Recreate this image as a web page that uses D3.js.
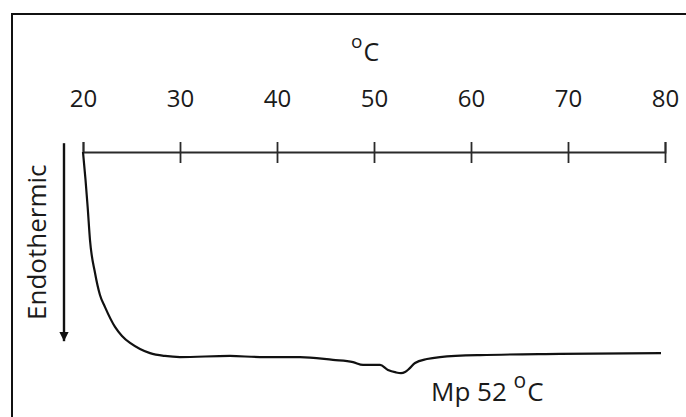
<!DOCTYPE html>
<html>
<head>
<meta charset="utf-8">
<script src="https://cdn.jsdelivr.net/npm/d3@7"></script>
<style>
  body { margin: 0; background: #fff; }
  svg { display: block; font-family: "Open Sans", sans-serif; }
</style>
</head>
<body>
<script>
const width = 686, height = 417;

// temperature ticks (°C)
const tickValues = [20, 30, 40, 50, 60, 70, 80];

// DSC trace: temperature and heat flow (arbitrary units)
const temps = [20.0, 20.26, 20.48, 20.72, 21.24, 21.75, 22.27, 23.3, 24.02, 24.85, 25.88, 26.91,
  28.45, 30.0, 35.15, 38.25, 42.37, 45.77, 47.84, 48.87, 50.62, 51.44, 52.27, 52.78, 53.2,
  53.61, 54.23, 55.46, 56.8, 60.93, 69.18, 79.59];
const heatFlow = [0, -1.27, -2.5, -4.0, -5.5, -6.5, -7.05, -7.95, -8.36, -8.68, -8.95, -9.14,
  -9.27, -9.32, -9.27, -9.32, -9.32, -9.45, -9.55, -9.68, -9.68, -9.91, -10.02, -10.05, -10.0,
  -9.86, -9.59, -9.41, -9.32, -9.23, -9.18, -9.14];

const data = temps.map((t, i) => ({t, v: heatFlow[i]}));

const x = d3.scaleLinear().domain([20, 80]).range([83, 665]);
const y = d3.scaleLinear().domain([0, -10]).range([152, 372]);

const svg = d3.select("body").append("svg")
    .attr("width", width)
    .attr("height", height);

// frame (only top and left edges show)
svg.append("path")
    .attr("d", `M12,${height} V14 H${width}`)
    .attr("fill", "none")
    .attr("stroke", "#111")
    .attr("stroke-width", 2);

// temperature axis
const axis = svg.append("g")
    .attr("transform", `translate(0,${y(0)})`)
    .call(d3.axisTop(x).tickValues(tickValues).tickSizeOuter(0).tickSize(10).tickFormat(d3.format("d")));

axis.select(".domain").attr("stroke", "#2a2a2a").attr("stroke-width", 1.8);
axis.selectAll(".tick line")
    .attr("stroke", "#2a2a2a")
    .attr("stroke-width", 1.8)
    .attr("y1", d => d === 20 ? 0 : 11)
    .attr("y2", -10);
axis.selectAll(".tick text")
    .attr("y", -45)
    .attr("dy", 0)
    .attr("fill", "#1a1a1a")
    .attr("font-family", "Open Sans")
    .attr("font-size", 24);

// unit label
const unit = svg.append("text")
    .attr("x", 351)
    .attr("y", 61)
    .attr("font-size", 25)
    .attr("fill", "#1a1a1a");
unit.append("tspan").attr("font-size", 19).attr("dy", -13).text("o");
unit.append("tspan").attr("dy", 13).attr("dx", 1).text("C");

// Endothermic direction arrow
svg.append("defs").append("marker")
    .attr("id", "head")
    .attr("viewBox", "0 0 10 10")
    .attr("refX", 10).attr("refY", 5)
    .attr("markerWidth", 4).attr("markerHeight", 4)
    .attr("markerUnits", "strokeWidth")
    .attr("orient", "auto")
  .append("path")
    .attr("d", "M0,0 L10,5 L0,10 Z")
    .attr("fill", "#111");

svg.append("line")
    .attr("x1", 64).attr("x2", 64)
    .attr("y1", y(0.4)).attr("y2", y(-8.6))
    .attr("stroke", "#111")
    .attr("stroke-width", 2.4)
    .attr("marker-end", "url(#head)");

svg.append("text")
    .attr("transform", `translate(46,${y(-4.1)}) rotate(-90)`)
    .attr("text-anchor", "middle")
    .attr("font-size", 26)
    .attr("fill", "#1a1a1a")
    .text("Endothermic");

// trace
const line = d3.line()
    .x(d => x(d.t))
    .y(d => y(d.v))
    .curve(d3.curveMonotoneX);

svg.append("path")
    .datum(data)
    .attr("d", line)
    .attr("fill", "none")
    .attr("stroke", "#111")
    .attr("stroke-width", 2.2)
    .attr("stroke-linejoin", "round");

// melting point label
const mp = svg.append("text")
    .attr("x", 431)
    .attr("y", 401)
    .attr("font-size", 26)
    .attr("fill", "#1a1a1a");
mp.append("tspan").text("Mp 52 ");
mp.append("tspan").attr("font-size", 21).attr("dy", -13).text("o");
mp.append("tspan").attr("dy", 13).attr("dx", 1).text("C");
</script>
</body>
</html>
